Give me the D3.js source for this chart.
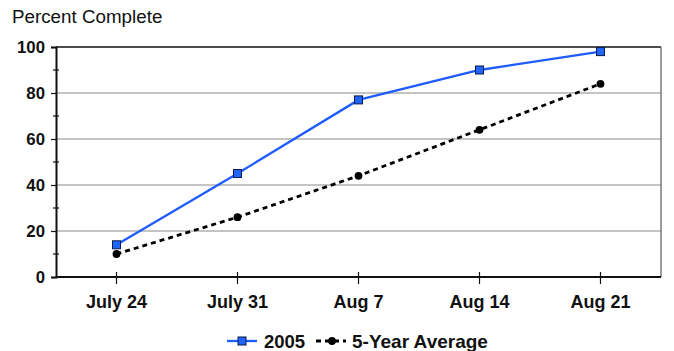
<!DOCTYPE html>
<html>
<head>
<meta charset="utf-8">
<script src="https://cdn.jsdelivr.net/npm/d3@7"></script>
<style>
  html, body { margin: 0; padding: 0; background: #fff; }
  svg { display: block; font-family: "Liberation Sans", Arial, Helvetica, sans-serif; }
</style>
</head>
<body>
<svg id="chart" width="674" height="351"></svg>
<script>
// Weekly harvest progress, percent complete
const categories = ["July 24", "July 31", "Aug 7", "Aug 14", "Aug 21"];
const series2005 = [14, 45, 77, 90, 98];
const seriesAvg = [10, 26, 44, 64, 84];
const yTicks = [0, 20, 40, 60, 80, 100];
const yMinorTicks = [10, 30, 50, 70, 90];
const seriesNames = ["2005", "5-Year Average"];

const svg = d3.select("#chart");
const plot = { left: 56, right: 661, top: 47, bottom: 277 };

const x = d3.scaleBand().domain(categories).range([plot.left, plot.right]);
const y = d3.scaleLinear().domain([0, 100]).range([plot.bottom, plot.top]);
const cx = d => x(d) + x.bandwidth() / 2;

// Title
svg.append("text")
  .attr("x", 12).attr("y", 23)
  .attr("font-size", 18.8)
  .attr("fill", "#111")
  .text("Percent Complete");

// Horizontal gridlines
svg.append("g").selectAll("line")
  .data(yTicks.filter(t => t > 0 && t < 100))
  .join("line")
  .attr("x1", plot.left).attr("x2", plot.right)
  .attr("y1", d => y(d)).attr("y2", d => y(d))
  .attr("stroke", "#8a8a8a").attr("stroke-width", 1.2);

// Plot frame: top and right
svg.append("line")
  .attr("x1", plot.left).attr("x2", plot.right)
  .attr("y1", y(100)).attr("y2", y(100))
  .attr("stroke", "#111").attr("stroke-width", 1.3);
svg.append("line")
  .attr("x1", plot.right).attr("x2", plot.right)
  .attr("y1", plot.top).attr("y2", plot.bottom)
  .attr("stroke", "#666").attr("stroke-width", 1.3);

// Y axis
const yAxis = svg.append("g")
  .attr("transform", `translate(${plot.left},0)`)
  .call(d3.axisLeft(y).tickValues(yTicks).tickSize(5).tickPadding(6).tickFormat(d3.format("d")));
yAxis.select(".domain").attr("stroke", "#111").attr("stroke-width", 2);
yAxis.selectAll(".tick line").attr("stroke", "#111").attr("stroke-width", 1.2);
yAxis.selectAll(".tick text")
  .attr("font-size", 16.8).attr("font-weight", "bold").attr("fill", "#111")
  .attr("font-family", "Liberation Sans, Arial, sans-serif");

// Minor ticks crossing the y axis
svg.append("g").selectAll("line")
  .data(yMinorTicks)
  .join("line")
  .attr("x1", plot.left - 3).attr("x2", plot.left + 3)
  .attr("y1", d => y(d)).attr("y2", d => y(d))
  .attr("stroke", "#111").attr("stroke-width", 1.2);

// X axis
const xAxis = svg.append("g")
  .attr("transform", `translate(0,${plot.bottom})`)
  .call(d3.axisBottom(x).tickSize(7).tickPadding(11));
xAxis.select(".domain").attr("stroke", "#111").attr("stroke-width", 2.2)
  .attr("d", `M${plot.left},0H${plot.right}`);
xAxis.selectAll(".tick line").attr("stroke", "#111").attr("stroke-width", 1.2).attr("y1", -5);
xAxis.selectAll(".tick text")
  .attr("font-size", 18).attr("font-weight", "bold").attr("fill", "#111")
  .attr("font-family", "Liberation Sans, Arial, sans-serif");

const line = d3.line().x((d, i) => cx(categories[i])).y(d => y(d));

// 5-year average: dashed black line with round markers
svg.append("path")
  .datum(seriesAvg)
  .attr("d", line)
  .attr("fill", "none")
  .attr("stroke", "#000")
  .attr("stroke-width", 2.8)
  .attr("stroke-dasharray", "5,4");
svg.append("g").selectAll("circle")
  .data(seriesAvg)
  .join("circle")
  .attr("cx", (d, i) => cx(categories[i]))
  .attr("cy", d => y(d))
  .attr("r", 3.9)
  .attr("fill", "#000");

// 2005: solid blue line with square markers
svg.append("path")
  .datum(series2005)
  .attr("d", line)
  .attr("fill", "none")
  .attr("stroke", "#1f5cff")
  .attr("stroke-width", 2.3);
svg.append("g").selectAll("rect")
  .data(series2005)
  .join("rect")
  .attr("x", (d, i) => cx(categories[i]) - 4)
  .attr("y", d => y(d) - 4)
  .attr("width", 8).attr("height", 8)
  .attr("fill", "#1f66ff")
  .attr("stroke", "#0a1a4a")
  .attr("stroke-width", 1);

// Legend
const legend = svg.append("g").attr("transform", "translate(0,341)");
legend.append("line")
  .attr("x1", 227).attr("x2", 257).attr("y1", 0).attr("y2", 0)
  .attr("stroke", "#1f5cff").attr("stroke-width", 2.3);
legend.append("rect")
  .attr("x", 238).attr("y", -4).attr("width", 8).attr("height", 8)
  .attr("fill", "#1f66ff").attr("stroke", "#0a1a4a").attr("stroke-width", 1);
legend.append("text")
  .attr("x", 264).attr("y", 6.5)
  .attr("font-size", 18.5).attr("font-weight", "bold").attr("fill", "#111")
  .text(seriesNames[0]);
legend.append("line")
  .attr("x1", 316).attr("x2", 346).attr("y1", 0).attr("y2", 0)
  .attr("stroke", "#000").attr("stroke-width", 2.8).attr("stroke-dasharray", "5,4");
legend.append("circle")
  .attr("cx", 332).attr("cy", 0).attr("r", 3.9).attr("fill", "#000");
legend.append("text")
  .attr("x", 352).attr("y", 6.5)
  .attr("font-size", 19).attr("font-weight", "bold").attr("fill", "#111")
  .text(seriesNames[1]);
</script>
</body>
</html>
